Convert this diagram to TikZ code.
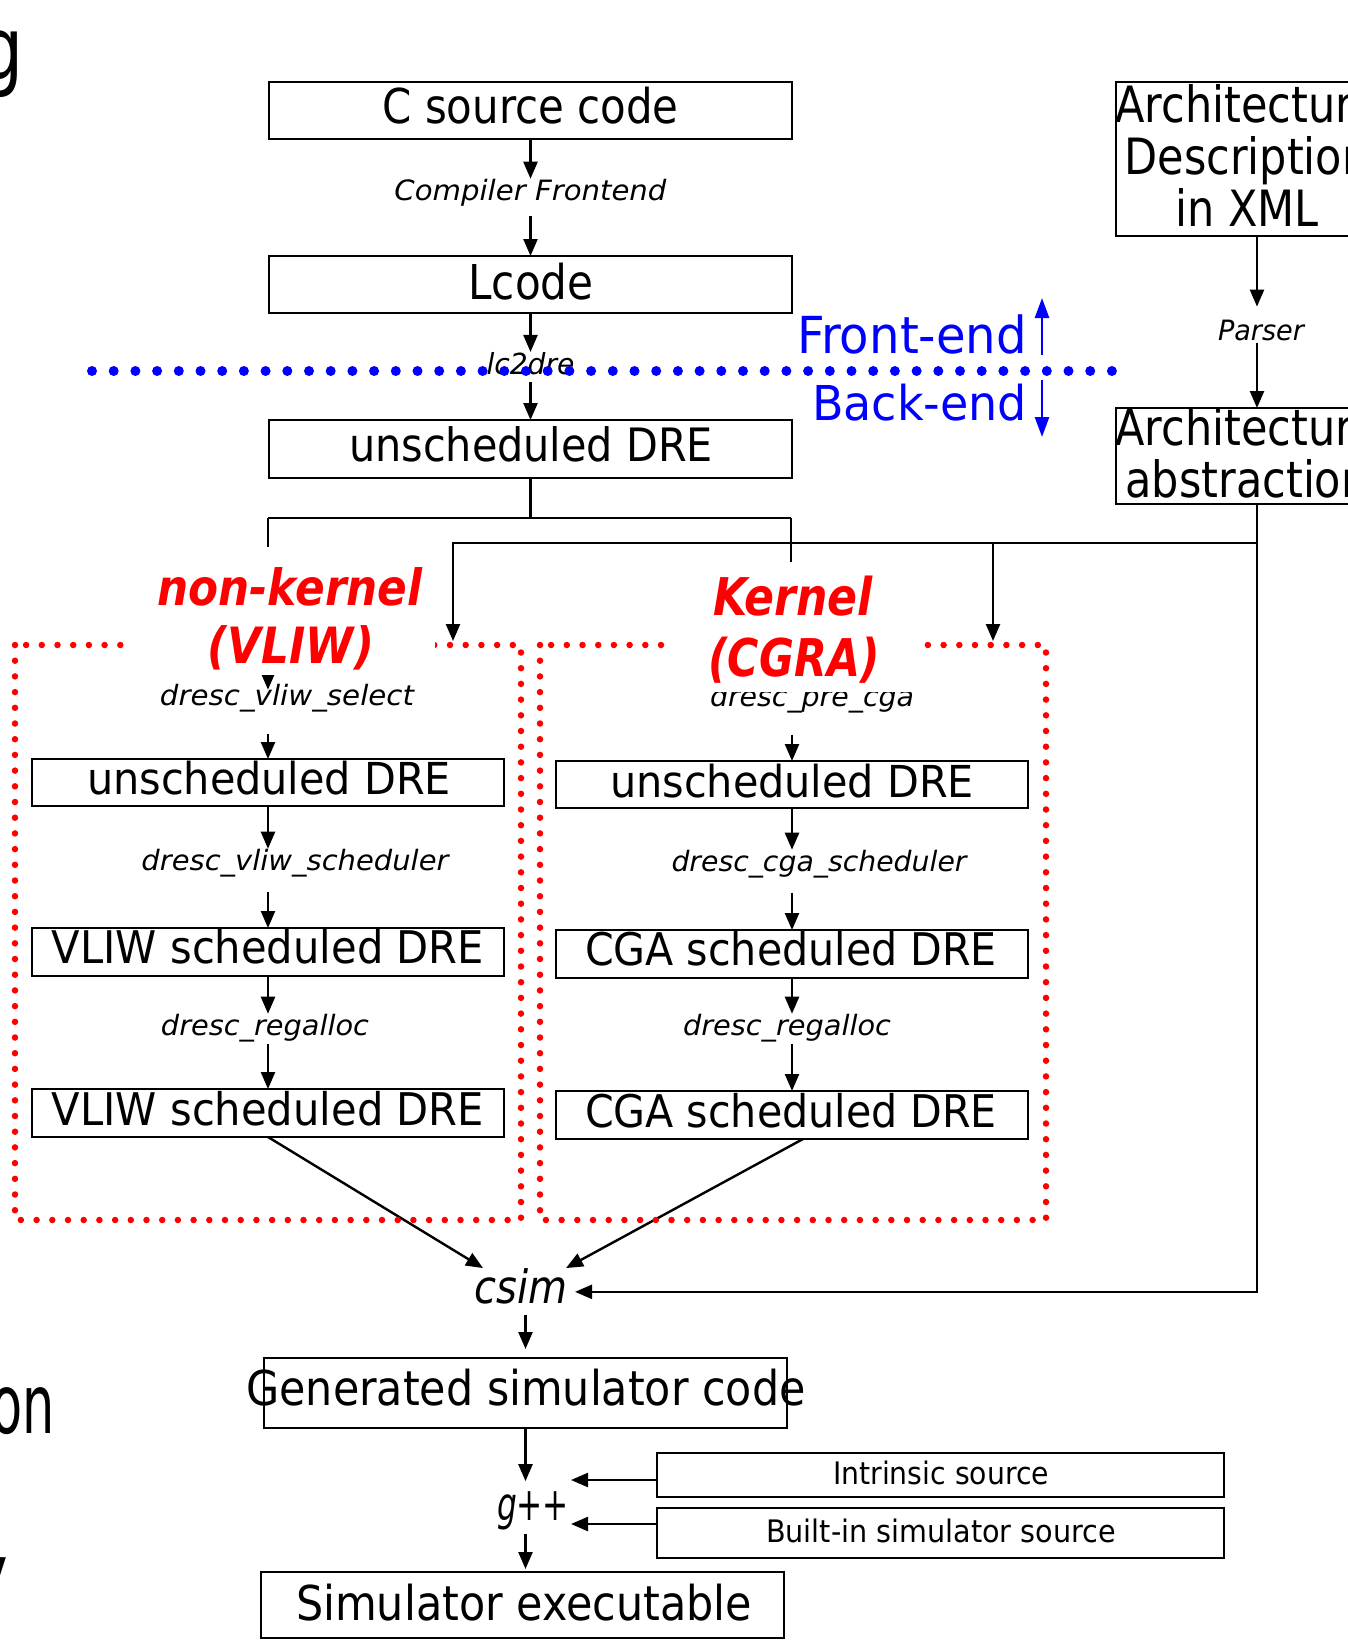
\documentclass[tikz,border=0pt]{standalone}
\usepackage{fontspec}
\setmainfont{DejaVu Sans}
\newfontfamily\cond[FakeStretch=0.86]{DejaVu Sans}
\usetikzlibrary{arrows.meta}
\newcommand\T[3]{\makebox[0pt]{\resizebox{#1pt}{\height}{\fontsize{#2pt}{#2pt}\selectfont #3}}}
\newcommand\TI[3]{\makebox[0pt]{\resizebox{#1pt}{\height}{\fontsize{#2pt}{#2pt}\selectfont\itshape #3}}}
\newcommand\TB[3]{\makebox[0pt]{\resizebox{#1pt}{\height}{\fontsize{#2pt}{#2pt}\selectfont\bfseries\itshape #3}}}
\begin{document}
\begin{tikzpicture}[x=1pt,y=-1pt,
  every node/.style={inner sep=0pt, outer sep=0pt},
  box/.style={draw, line width=2.4pt},
  conn/.style={line width=2.4pt},
  arr/.style={line width=2.4pt, -{Triangle[length=17pt,width=14pt]}},
  barr/.style={blue, line width=2.6pt, -{Triangle[length=20pt,width=14pt]}},
  txt/.style={anchor=base},
  reddots/.style={red, line width=6.5pt, line cap=round, dash pattern=on 0pt off 15.7pt},
  bluedots/.style={blue, line width=10pt, line cap=round, dash pattern=on 0pt off 21.7pt},
]
\useasboundingbox (0,0) rectangle (1348,1643);

% clipped fragments of slide text
\node[anchor=base west] (fragg) at (-20,80) {\scalebox{0.8}[1]{\fontsize{87pt}{87pt}\selectfont g}};
\node[anchor=base west] (fragon) at (-9,1433) {\scalebox{0.62}[1]{\fontsize{82pt}{82pt}\selectfont on}};
\node[anchor=base west] (fragy) at (-30,1602) {\scalebox{0.8}[1]{\fontsize{82pt}{82pt}\selectfont y}};

% boxes
\node[box, minimum width=523, minimum height=57] (src) at (530.5,110.5) {};
\node[box, minimum width=523, minimum height=57] (lcode) at (530.5,284.5) {};
\node[box, minimum width=523, minimum height=58] (udre) at (530.5,449) {};
\node[box, minimum width=282, minimum height=154] (arch) at (1257,159) {};
\node[box, minimum width=282, minimum height=96] (abs) at (1257,456) {};
\node[box, minimum width=472, minimum height=47] (lu) at (268,782.5) {};
\node[box, minimum width=472, minimum height=48] (lv1) at (268,952) {};
\node[box, minimum width=472, minimum height=48] (lv2) at (268,1113) {};
\node[box, minimum width=472, minimum height=47] (ru) at (792,784.5) {};
\node[box, minimum width=472, minimum height=48] (rc1) at (792,954) {};
\node[box, minimum width=472, minimum height=48] (rc2) at (792,1115) {};
\node[box, minimum width=523, minimum height=70] (gen) at (525.5,1393) {};
\node[box, minimum width=567, minimum height=44] (intr) at (940.5,1475) {};
\node[box, minimum width=567, minimum height=50] (bis) at (940.5,1533) {};
\node[box, minimum width=523, minimum height=66] (exe) at (522.5,1605) {};

% box texts
\node[txt] (srct) at (530.5,124) {\T{296}{48}{C source code}};
\node[txt] (lcodet) at (531,299) {\T{125}{48}{Lcode}};
\node[txt] (udret) at (531,461) {\T{364}{46}{unscheduled DRE}};
\node[txt, align=center, font=\cond\fontsize{50pt}{52pt}\selectfont] (archt) at (1247,226) {Architecture\\Description\\in XML};
\node[txt, align=center, font=\cond\fontsize{50pt}{52pt}\selectfont] (abst) at (1247,497) {Architecture\\abstraction};
\node[txt] (lut) at (269,794) {\T{364}{44}{unscheduled DRE}};
\node[txt] (lv1t) at (268,963) {\T{432}{45}{VLIW scheduled DRE}};
\node[txt] (lv2t) at (268,1125) {\T{432}{45}{VLIW scheduled DRE}};
\node[txt] (rut) at (792,797) {\T{364}{44}{unscheduled DRE}};
\node[txt] (rc1t) at (791,965) {\T{412}{45}{CGA scheduled DRE}};
\node[txt] (rc2t) at (791,1127) {\T{412}{45}{CGA scheduled DRE}};
\node[txt] (gent) at (526,1405) {\T{559}{48}{Generated simulator code}};
\node[txt] (intrt) at (941,1484) {\T{216}{31}{Intrinsic source}};
\node[txt] (bist) at (941,1542) {\T{350}{31}{Built-in simulator source}};
\node[txt] (exet) at (524,1620) {\T{456}{48}{Simulator executable}};

% labels
\node[txt] (cf) at (530.5,200) {\TI{272}{28}{Compiler Frontend}};
\node[txt] (lc) at (530.5,374) {\TI{88}{29}{lc2dre}};
\node[txt] (parser) at (1261,340) {\TI{86}{28}{Parser}};
\node[txt] (vs) at (287,705) {\TI{254}{28}{dresc\_vliw\_select}};
\node[txt] (pc) at (812,706) {\TI{204}{28}{dresc\_pre\_cga}};
\node[txt] (vsch) at (295,870) {\TI{307}{28}{dresc\_vliw\_scheduler}};
\node[txt] (csch) at (819,871) {\TI{295}{28}{dresc\_cga\_scheduler}};
\node[txt] (ral) at (265,1035) {\TI{208}{28}{dresc\_regalloc}};
\node[txt] (rar) at (787,1035) {\TI{208}{28}{dresc\_regalloc}};
\node[txt] (csim) at (521,1303) {\TI{93}{46}{csim}};
\node[txt] (gpp) at (533,1520) {\TI{72}{46}{g++}};

% blue front/back-end divider
\draw[bluedots] (92,371) -- (1120,371);
\node[txt, text=blue] (fe) at (912,353) {\T{230}{51}{Front-end}};
\node[txt, text=blue] (be) at (919.5,420) {\T{215}{48}{Back-end}};
\draw[barr] (1042,355) -- (1042,298);
\draw[barr] (1042,380) -- (1042,437);

% main column connectors
\draw[arr] (src.south) -- (src.south |- cf.north);
\draw[arr, shorten <=10pt] (lcode.north |- cf.south) -- (lcode.north);
\draw[arr] (lcode.south) -- (lcode.south |- lc.north);
\draw[arr, shorten <=8pt] (udre.north |- lc.south) -- (udre.north);
\coordinate (j) at (530.5,518);
\coordinate (jl) at (268,518);
\coordinate (jr) at (791,518);
\draw[conn] (udre.south) -- (j);
\draw[conn] (jl) -- (jr);
\draw[arr, shorten >=-6pt] (jl) -- (jl |- vs.north);
\draw[arr, shorten >=-8pt] (jr) -- (jr |- pc.north);

% architecture connectors
\draw[arr, shorten >=13pt] (arch.south) -- (arch.south |- parser.north);
\draw[arr, shorten <=3pt] (abs.north |- parser.south) -- (abs.north);
\draw[arr] (abs.south) |- ([xshift=54pt,yshift=-6pt]csim.center);
\coordinate (aj) at (1257,543);
\coordinate (tl) at (453,641);
\coordinate (tr) at (993,641);
\draw[arr] (aj) -| (tl);
\draw[arr] (aj -| tr) -- (tr);

% left column
\draw[arr, shorten <=22pt] (lu.north |- vs.south) -- (lu.north);
\draw[arr] (lu.south) -- (lu.south |- vsch.north);
\draw[arr, shorten <=15pt] (lv1.north |- vsch.south) -- (lv1.north);
\draw[arr] (lv1.south) -- (lv1.south |- ral.north);
\draw[arr, shorten <=2pt] (lv2.north |- ral.south) -- (lv2.north);
% right column
\draw[arr, shorten <=22pt] (ru.north |- pc.south) -- (ru.north);
\draw[arr] (ru.south) -- (ru.south |- csch.north);
\draw[arr, shorten <=15pt] (rc1.north |- csch.south) -- (rc1.north);
\draw[arr] (rc1.south) -- (rc1.south |- rar.north);
\draw[arr, shorten <=2pt] (rc2.north |- rar.south) -- (rc2.north);

% to csim and below
\draw[arr] (lv2.south) -- ([xshift=-38pt]csim.north);
\draw[arr] ([xshift=11pt]rc2.south) -- ([xshift=45pt]csim.north);
\draw[arr, shorten <=11pt, shorten >=9pt] (gen.north |- csim.south) -- (gen.north);
\draw[arr, shorten >=10pt] (gen.south) -- (gen.south |- gpp.north);
\coordinate (gin1) at (571,1480);
\coordinate (gin2) at (571,1524);
\draw[arr] (intr.west |- gin1) -- (gin1);
\draw[arr] (bis.west |- gin2) -- (gin2);
\draw[arr, shorten <=4pt, shorten >=3pt] (gen.south |- gpp.south) -- (gen.south |- exe.north);

% red dotted regions
\draw[reddots] (15,645) rectangle (521,1220);
\draw[reddots] (540,645) rectangle (1046,1220);

% titles (white backing hides what lies below)
\node[fill=white, minimum width=303, minimum height=128, anchor=north] (nkbg) at (283.5,547) {};
\node[fill=white, minimum width=255, minimum height=130, anchor=north] (kbg) at (794.5,562) {};
\node[txt, text=red] (nk1) at (290,605) {\TB{265}{50}{non-kernel}};
\node[txt, text=red] (nk2) at (291,663) {\TB{166}{50}{(VLIW)}};
\node[txt, text=red] (k1) at (793,615) {\TB{160}{52}{Kernel}};
\node[txt, text=red] (k2) at (794,676) {\TB{171}{52}{(CGRA)}};
\end{tikzpicture}
\end{document}
